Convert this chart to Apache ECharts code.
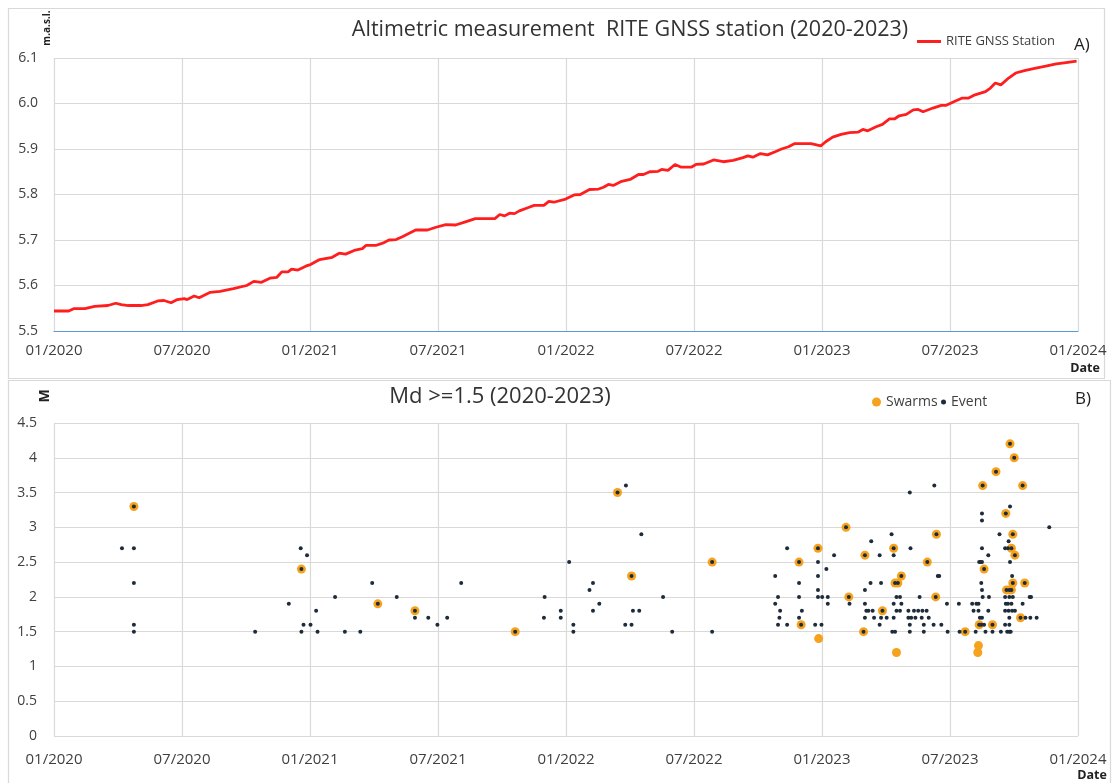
<!DOCTYPE html>
<html><head><meta charset="utf-8">
<script src="https://cdn.jsdelivr.net/npm/echarts@6/dist/echarts.min.js"></script>
<style>html,body{margin:0;padding:0;background:#fff}#c{width:1114px;height:783px}</style>
</head><body><div id="c"></div>
<script>
// ---------- DATA ----------
const xTickLabels = ['01/2020','07/2020','01/2021','07/2021','01/2022','07/2022','01/2023','07/2023','01/2024'];

const gnssHeight = [
['2020-01-01',5.544],['2020-01-22',5.544],['2020-01-29',5.549],['2020-02-14',5.549],['2020-02-28',5.554],
['2020-03-18',5.556],['2020-03-29',5.561],['2020-04-06',5.558],['2020-04-16',5.556],['2020-05-04',5.556],
['2020-05-14',5.558],['2020-05-28',5.566],['2020-06-06',5.567],['2020-06-16',5.562],['2020-06-25',5.569],
['2020-07-05',5.571],['2020-07-09',5.569],['2020-07-19',5.577],['2020-07-26',5.573],['2020-08-11',5.585],
['2020-08-25',5.587],['2020-09-13',5.593],['2020-10-02',5.600],['2020-10-12',5.609],['2020-10-23',5.607],
['2020-11-04',5.616],['2020-11-14',5.618],['2020-11-21',5.630],['2020-11-30',5.630],['2020-12-05',5.636],
['2020-12-14',5.634],['2020-12-26',5.643],['2021-01-01',5.646],['2021-01-14',5.657],['2021-02-01',5.662],
['2021-02-11',5.671],['2021-02-20',5.669],['2021-03-06',5.678],['2021-03-16',5.681],['2021-03-21',5.688],
['2021-04-04',5.688],['2021-04-14',5.693],['2021-04-23',5.700],['2021-05-03',5.701],['2021-05-12',5.707],
['2021-05-31',5.722],['2021-06-17',5.722],['2021-06-29',5.728],['2021-07-13',5.734],['2021-07-27',5.733],
['2021-08-10',5.740],['2021-08-24',5.747],['2021-09-21',5.747],['2021-09-28',5.756],['2021-10-05',5.753],
['2021-10-12',5.759],['2021-10-19',5.758],['2021-10-26',5.764],['2021-11-07',5.771],['2021-11-16',5.776],
['2021-11-30',5.776],['2021-12-07',5.785],['2021-12-14',5.783],['2021-12-31',5.790],['2022-01-12',5.799],
['2022-01-21',5.800],['2022-02-03',5.811],['2022-02-16',5.812],['2022-02-23',5.816],['2022-03-02',5.822],
['2022-03-09',5.820],['2022-03-21',5.829],['2022-04-02',5.833],['2022-04-14',5.844],['2022-04-21',5.844],
['2022-04-30',5.850],['2022-05-12',5.851],['2022-05-17',5.855],['2022-05-26',5.853],['2022-06-05',5.866],
['2022-06-14',5.860],['2022-06-28',5.860],['2022-07-05',5.866],['2022-07-16',5.867],['2022-07-30',5.876],
['2022-08-13',5.872],['2022-08-27',5.875],['2022-09-10',5.881],['2022-09-17',5.885],['2022-09-24',5.882],
['2022-10-05',5.890],['2022-10-15',5.887],['2022-10-26',5.894],['2022-11-04',5.900],['2022-11-14',5.905],
['2022-11-23',5.912],['2022-12-16',5.912],['2022-12-30',5.907],['2023-01-06',5.916],['2023-01-16',5.926],
['2023-01-28',5.932],['2023-02-09',5.936],['2023-02-21',5.937],['2023-02-28',5.943],['2023-03-07',5.940],
['2023-03-19',5.949],['2023-03-28',5.954],['2023-04-07',5.966],['2023-04-14',5.966],['2023-04-21',5.973],
['2023-05-01',5.976],['2023-05-11',5.986],['2023-05-18',5.987],['2023-05-25',5.982],['2023-06-08',5.990],
['2023-06-20',5.996],['2023-06-27',5.996],['2023-07-11',6.006],['2023-07-20',6.012],['2023-07-29',6.012],
['2023-08-07',6.019],['2023-08-22',6.026],['2023-08-29',6.034],['2023-09-05',6.045],['2023-09-13',6.041],
['2023-09-24',6.056],['2023-10-04',6.067],['2023-10-18',6.073],['2023-11-02',6.078],['2023-11-16',6.082],
['2023-12-01',6.087],['2023-12-15',6.090],['2023-12-30',6.093]
];

const swarms = [
['2020-04-24',3.3],['2020-12-19',2.4],['2021-04-07',1.9],['2021-05-30',1.8],['2021-10-20',1.5],
['2022-03-15',3.5],['2022-04-04',2.3],['2022-07-28',2.5],['2022-11-29',2.5],['2022-12-02',1.6],
['2022-12-26',2.7],['2022-12-27',1.4],['2023-02-04',3.0],['2023-02-08',2.0],['2023-03-01',1.5],
['2023-03-03',2.6],['2023-03-28',1.8],['2023-04-13',2.7],['2023-04-15',2.2],['2023-04-19',2.2],
['2023-04-17',1.2],['2023-04-24',2.3],['2023-05-31',2.5],['2023-06-12',2.0],['2023-06-13',2.9],
['2023-07-24',1.5],['2023-08-13',1.6],['2023-08-12',1.3],['2023-08-11',1.2],['2023-08-18',3.6],
['2023-08-20',2.4],['2023-09-01',1.6],['2023-09-06',3.8],['2023-09-20',3.2],['2023-09-26',4.2],
['2023-10-02',4.0],['2023-10-14',3.6],['2023-09-30',2.9],['2023-09-28',2.7],['2023-10-03',2.6],
['2023-09-30',2.2],['2023-10-17',2.2],['2023-09-21',2.1],['2023-09-25',2.1],['2023-09-28',2.1],
['2023-10-11',1.7]
];

const events = [
['2020-04-07',2.7],['2020-04-24',2.7],['2020-04-24',3.3],['2020-04-24',2.2],['2020-04-24',1.6],['2020-04-24',1.5],
['2020-10-14',1.5],['2020-12-01',1.9],['2020-12-18',2.7],['2020-12-19',2.4],['2020-12-19',1.5],['2020-12-22',1.6],
['2020-12-27',2.6],['2021-01-01',1.6],['2021-01-09',1.8],['2021-01-11',1.5],['2021-02-05',2.0],['2021-02-19',1.5],
['2021-03-13',1.5],['2021-03-30',2.2],['2021-04-07',1.9],['2021-05-04',2.0],['2021-05-30',1.8],['2021-05-30',1.7],
['2021-06-18',1.7],['2021-07-01',1.6],['2021-07-15',1.7],['2021-08-04',2.2],['2021-10-20',1.5],['2021-12-01',2.0],
['2021-11-30',1.7],['2021-12-24',1.8],['2021-12-24',1.7],
['2022-01-05',2.5],['2022-01-11',1.6],['2022-01-11',1.5],['2022-02-03',2.1],['2022-02-08',2.2],['2022-02-08',1.8],
['2022-02-17',1.9],['2022-03-15',3.5],['2022-03-27',3.6],['2022-03-26',1.6],['2022-04-04',1.6],['2022-04-04',2.3],
['2022-04-06',1.8],['2022-04-15',1.8],['2022-04-18',2.9],['2022-05-19',2.0],['2022-06-01',1.5],['2022-07-28',2.5],
['2022-07-28',1.5],['2022-10-26',2.3],['2022-10-26',1.9],['2022-10-30',2.0],['2022-10-30',1.6],['2022-11-01',1.7],
['2022-11-02',1.8],['2022-11-12',1.6],['2022-11-12',2.7],['2022-11-29',2.5],['2022-11-29',2.2],['2022-11-29',2.0],
['2022-11-29',1.7],['2022-12-03',1.8],['2022-12-02',1.6],['2022-12-22',1.6],['2022-12-31',1.6],['2022-12-26',2.7],
['2022-12-26',2.5],['2022-12-26',2.3],['2022-12-26',2.1],['2022-12-26',2.0],
['2023-01-01',2.0],['2023-01-09',2.0],['2023-01-09',1.9],['2023-01-07',2.4],['2023-01-18',2.6],['2023-02-04',3.0],
['2023-02-08',2.0],['2023-02-09',1.9],['2023-03-03',2.6],['2023-03-03',2.1],['2023-03-03',1.9],['2023-03-03',1.7],
['2023-03-05',1.8],['2023-03-01',1.5],['2023-03-11',2.2],['2023-03-12',2.8],['2023-03-08',1.8],['2023-03-14',1.8],
['2023-03-16',1.7],['2023-03-24',1.6],['2023-03-24',2.6],['2023-03-26',2.2],['2023-03-26',1.7],['2023-03-28',1.8],
['2023-04-03',1.7],['2023-04-10',2.9],['2023-04-13',2.7],['2023-04-13',2.6],['2023-04-13',1.9],['2023-04-13',1.7],
['2023-04-15',2.2],['2023-04-19',2.2],['2023-04-24',2.3],['2023-04-24',1.9],['2023-04-17',2.0],['2023-04-17',1.8],
['2023-04-22',2.0],['2023-04-22',1.8],['2023-04-11',1.5],['2023-04-15',1.5],['2023-05-07',2.7],['2023-05-06',3.5],
['2023-05-04',1.8],['2023-05-04',1.7],['2023-05-06',1.6],['2023-05-06',1.5],['2023-05-08',1.7],['2023-05-12',1.8],
['2023-05-14',1.7],['2023-05-18',1.8],['2023-05-20',2.0],['2023-05-23',1.7],['2023-05-24',1.8],['2023-05-26',1.6],
['2023-05-26',1.5],['2023-05-30',1.8],['2023-05-31',2.5],['2023-06-02',1.7],['2023-06-09',1.6],['2023-06-10',3.6],
['2023-06-12',2.0],['2023-06-13',2.9],['2023-06-15',2.3],['2023-06-17',2.3],['2023-06-20',1.6],['2023-06-28',1.9],
['2023-06-29',1.5],['2023-07-15',1.9],['2023-07-16',1.5],['2023-07-24',1.5],['2023-08-03',1.9],['2023-08-05',1.8],
['2023-08-08',1.5],['2023-08-09',1.9],['2023-08-12',1.9],['2023-08-12',1.8],['2023-08-13',1.6],['2023-08-13',2.5],
['2023-08-14',1.7],['2023-08-15',2.5],['2023-08-16',1.6],['2023-08-17',1.7],['2023-08-17',2.7],['2023-08-17',2.5],
['2023-08-17',2.1],['2023-08-17',3.2],['2023-08-17',3.1],['2023-08-18',3.6],['2023-08-18',2.0],['2023-08-20',2.4],
['2023-08-20',1.6],['2023-08-16',2.2],['2023-08-22',1.5],['2023-08-26',1.8],['2023-08-26',2.6],['2023-08-27',2.0],
['2023-09-01',1.6],['2023-09-01',1.5],['2023-09-06',3.8],['2023-09-11',2.9],['2023-09-13',1.5],['2023-09-19',2.0],
['2023-09-19',1.8],['2023-09-19',1.6],['2023-09-19',2.7],['2023-09-20',3.2],['2023-09-20',1.9],['2023-09-21',2.1],
['2023-09-22',1.5],['2023-09-23',2.7],['2023-09-23',1.9],['2023-09-24',2.8],['2023-09-24',1.8],['2023-09-25',2.1],
['2023-09-25',2.0],['2023-09-25',1.7],['2023-09-25',1.6],['2023-09-25',1.5],['2023-09-26',4.2],['2023-09-26',3.3],
['2023-09-26',2.5],['2023-09-27',1.5],['2023-09-28',2.7],['2023-09-28',2.1],['2023-09-28',1.9],['2023-09-29',2.3],
['2023-09-29',1.8],['2023-09-30',2.9],['2023-09-30',2.2],['2023-09-30',2.0],['2023-10-02',4.0],['2023-10-03',2.6],
['2023-10-03',1.8],['2023-10-11',1.7],['2023-10-14',3.6],['2023-10-14',1.9],['2023-10-17',2.2],['2023-10-18',1.7],
['2023-10-24',2.0],['2023-10-25',1.7],['2023-10-26',2.0],['2023-11-03',1.7],['2023-11-21',3.0]
];

// ---------- CHART ----------
const T0 = Date.UTC(2020,0,1);
const DAY = 86400000;
const SPAN = (Date.UTC(2024,0,1) - T0) / DAY;      // 1461 days
const HALF = SPAN / 8;                              // half-year tick spacing
const dayOf = s => (Date.parse(s + 'T00:00:00Z') - T0) / DAY;
const toXY = arr => arr.map(([d, v]) => [dayOf(d), v]);

const FONT = '"Open Sans", "Noto Sans", sans-serif';
const LBL = '#404040';
const GRID = '#d9d9d9';

const xAxisBase = (gi, margin, lineShow) => ({
  type: 'value', gridIndex: gi, min: 0, max: SPAN, interval: HALF,
  axisLine: { show: lineShow, lineStyle: { color: '#5b9bd5', width: 1.2 } },
  axisTick: { show: false },
  splitLine: { show: true, lineStyle: { color: GRID, width: 1.2 } },
  axisLabel: { color: LBL, fontSize: 15, fontFamily: FONT, margin: margin,
    formatter: v => xTickLabels[Math.round(v / HALF)] || '' }
});

const chart = echarts.init(document.getElementById('c'), null, { renderer: 'canvas' });
chart.setOption({
  animation: false,
  backgroundColor: '#fff',
  grid: [
    { left: 54, right: 36, top: 58, bottom: 452 },
    { left: 54, right: 36, top: 423, bottom: 47 }
  ],
  xAxis: [ xAxisBase(0, 12, true), xAxisBase(1, 16, false) ],
  yAxis: [
    { type: 'value', gridIndex: 0, min: 5.5, max: 6.1, interval: 0.1,
      axisLine: { show: false }, axisTick: { show: false },
      splitLine: { lineStyle: { color: GRID, width: 1.2 } },
      axisLabel: { color: LBL, fontSize: 14, fontFamily: FONT, margin: 16, formatter: v => v.toFixed(1) } },
    { type: 'value', gridIndex: 1, min: 0, max: 4.5, interval: 0.5,
      axisLine: { show: false }, axisTick: { show: false },
      splitLine: { lineStyle: { color: GRID, width: 1.2 } },
      axisLabel: { color: LBL, fontSize: 14, fontFamily: FONT, margin: 17 } }
  ],
  legend: [
    { left: 917, top: 35, padding: 0, data: [{ name: 'RITE GNSS Station', icon: 'rect' }],
      itemWidth: 24, itemHeight: 3, textStyle: { fontSize: 13, color: LBL, fontFamily: FONT } },
    { left: 872, top: 395, padding: 0, data: [{ name: 'Swarms', icon: 'circle' }],
      itemWidth: 9, itemHeight: 9, itemGap: 4, textStyle: { fontSize: 14, color: LBL, fontFamily: FONT } },
    { left: 941, top: 395, padding: 0, data: [{ name: 'Event', icon: 'circle' }],
      itemWidth: 5, itemHeight: 5, textStyle: { fontSize: 14, color: LBL, fontFamily: FONT } }
  ],
  series: [
    { name: 'RITE GNSS Station', type: 'line', xAxisIndex: 0, yAxisIndex: 0,
      data: toXY(gnssHeight), showSymbol: false, symbol: 'none',
      lineStyle: { color: '#ff1e1e', width: 2.8 }, itemStyle: { color: '#ff1e1e' } },
    { name: 'Swarms', type: 'scatter', xAxisIndex: 1, yAxisIndex: 1,
      data: toXY(swarms), symbolSize: 9, itemStyle: { color: '#f6a21d', opacity: 1 } },
    { name: 'Event', type: 'scatter', xAxisIndex: 1, yAxisIndex: 1,
      data: toXY(events), symbolSize: 4, itemStyle: { color: '#1e2b3a', opacity: 1 } }
  ],
  graphic: [
    { type: 'rect', shape: { x: 8.5, y: 8.5, width: 1096, height: 370 }, style: { fill: 'none', stroke: GRID, lineWidth: 1.2 }, silent: true },
    { type: 'rect', shape: { x: 8.5, y: 380.5, width: 1102, height: 420 }, style: { fill: 'none', stroke: GRID, lineWidth: 1.2 }, silent: true },
    { type: 'text', x: 630, y: 30, style: { text: 'Altimetric measurement  RITE GNSS station (2020-2023)', textAlign: 'center', textVerticalAlign: 'middle', fontSize: 21.5, fontFamily: FONT, fill: '#333' } },
    { type: 'text', x: 500, y: 397, style: { text: 'Md >=1.5 (2020-2023)', textAlign: 'center', textVerticalAlign: 'middle', fontSize: 22, fontFamily: FONT, fill: '#333' } },
    { type: 'text', x: 1082, y: 45, style: { text: 'A)', textAlign: 'center', textVerticalAlign: 'middle', fontSize: 17, fontFamily: FONT, fill: '#222' } },
    { type: 'text', x: 1083, y: 399, style: { text: 'B)', textAlign: 'center', textVerticalAlign: 'middle', fontSize: 17, fontFamily: FONT, fill: '#222' } },
    { type: 'text', x: 47, y: 28, rotation: Math.PI / 2, style: { text: 'm.a.s.l.', textAlign: 'center', textVerticalAlign: 'middle', fontSize: 10, fontWeight: 'bold', fontFamily: FONT, fill: '#222' } },
    { type: 'text', x: 45, y: 396, rotation: Math.PI / 2, style: { text: 'M', textAlign: 'center', textVerticalAlign: 'middle', fontSize: 14, fontWeight: 'bold', fontFamily: FONT, fill: '#222' } },
    { type: 'text', x: 1085, y: 368, style: { text: 'Date', textAlign: 'center', textVerticalAlign: 'middle', fontSize: 12.5, fontWeight: 'bold', fontFamily: FONT, fill: '#222' } },
    { type: 'text', x: 1092, y: 775, style: { text: 'Date', textAlign: 'center', textVerticalAlign: 'middle', fontSize: 12.5, fontWeight: 'bold', fontFamily: FONT, fill: '#222' } }
  ]
});
</script>
</body></html>
